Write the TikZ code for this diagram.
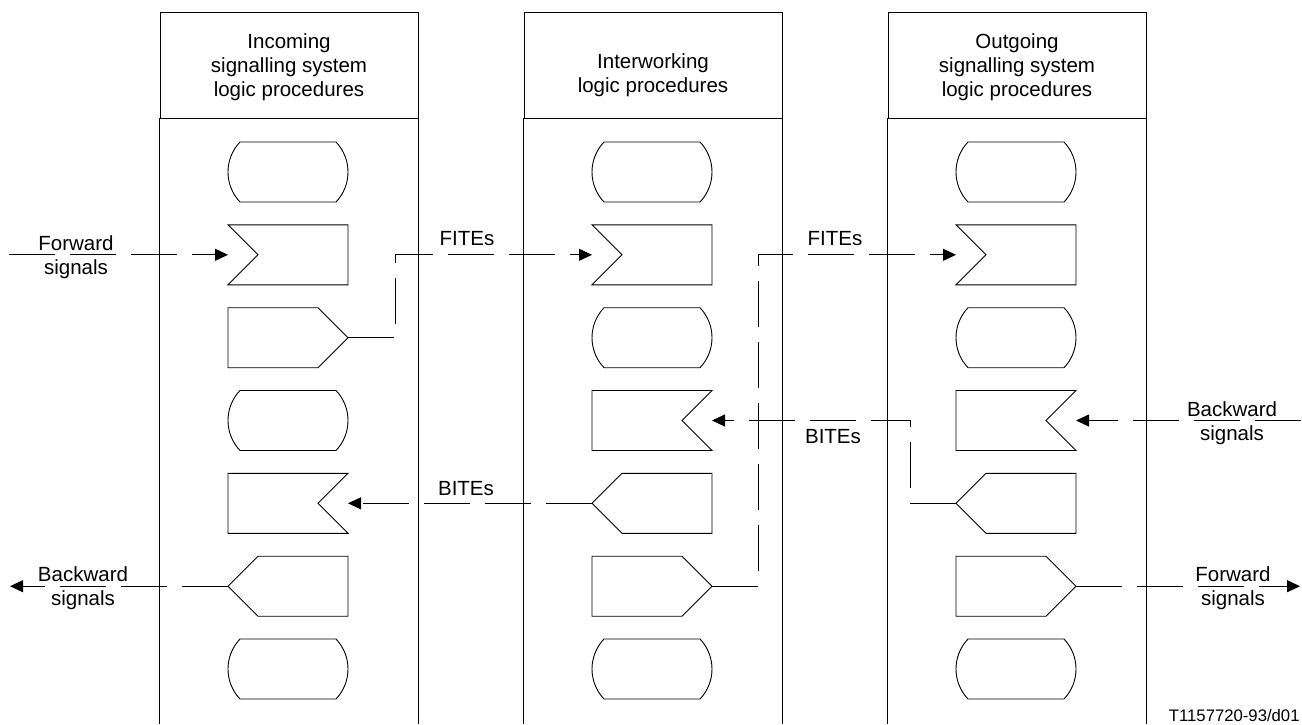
\documentclass[tikz,border=0pt]{standalone}
\usepackage{fontspec}
\setmainfont{Liberation Sans}
\usetikzlibrary{arrows.meta,calc}
\newcommand\shterm[1]{\draw ($(#1)+(-48,-30)$) -- ($(#1)+(48,-30)$) .. controls ($(#1)+(64,-13.2)$) and ($(#1)+(64,13.2)$) .. ($(#1)+(48,30)$) -- ($(#1)+(-48,30)$) .. controls ($(#1)+(-64,13.2)$) and ($(#1)+(-64,-13.2)$) .. cycle;}
\newcommand\shrecvL[1]{\draw ($(#1)+(-60,-30)$) -- ($(#1)+(60,-30)$) -- ($(#1)+(60,30)$) -- ($(#1)+(-60,30)$) -- ($(#1)+(-30,0)$) -- cycle;}
\newcommand\shrecvR[1]{\draw ($(#1)+(-60,-30)$) -- ($(#1)+(60,-30)$) -- ($(#1)+(30,0)$) -- ($(#1)+(60,30)$) -- ($(#1)+(-60,30)$) -- cycle;}
\newcommand\shsendR[1]{\draw ($(#1)+(-60,-30)$) -- ($(#1)+(30,-30)$) -- ($(#1)+(60,0)$) -- ($(#1)+(30,30)$) -- ($(#1)+(-60,30)$) -- cycle;}
\newcommand\shsendL[1]{\draw ($(#1)+(-30,-30)$) -- ($(#1)+(60,-30)$) -- ($(#1)+(60,30)$) -- ($(#1)+(-30,30)$) -- ($(#1)+(-60,0)$) -- cycle;}
\begin{document}
\begin{tikzpicture}[x=1pt,y=-1pt, line width=0.9pt,
  lbl/.style={font=\fontsize{20.5}{24}\selectfont, inner sep=0pt, align=center},
  hdrbox/.style={draw, minimum width=258pt, minimum height=106pt, inner sep=0pt},
  slot/.style={minimum width=120pt, minimum height=60pt, inner sep=0pt, outer sep=0pt},
  sig/.style={dash pattern=on 46pt off 15pt},
  tip/.style={-{Triangle[length=13pt,width=12pt]}}]
\useasboundingbox (0,0) rectangle (1302,724);
\coordinate (bot) at (0,724);
% columns
\node[hdrbox] (HL) at (289,65) {};
\node[hdrbox] (HM) at (653,65) {};
\node[hdrbox] (HR) at (1017,65) {};
\foreach \h in {HL,HM,HR}{
  \draw (\h.south west) -- (\h.south west |- bot);
  \draw (\h.south east) -- (\h.south east |- bot);
}
\node[lbl, anchor=north] (TL) at (289,33) {Incoming\\signalling system\\logic procedures};
\node[lbl, anchor=north] (TM) at (653,53) {Interworking\\logic procedures};
\node[lbl, anchor=north] (TR) at (1017,33) {Outgoing\\signalling system\\logic procedures};
% slots
\foreach \c/\x in {L/288,M/652,R/1016}{
  \foreach \r/\y in {1/172,2/254.8,3/337.7,4/420.5,5/503.3,6/586.2,7/669}{
    \node[slot] (\c\r) at (\x,\y) {};
  }
}
\shterm{L1} \shrecvL{L2} \shsendR{L3} \shterm{L4} \shrecvR{L5} \shsendL{L6} \shterm{L7}
\shterm{M1} \shrecvL{M2} \shterm{M3} \shrecvR{M4} \shsendL{M5} \shsendR{M6} \shterm{M7}
\shterm{R1} \shrecvL{R2} \shterm{R3} \shrecvR{R4} \shsendL{R5} \shsendR{R6} \shterm{R7}
% connectors
\coordinate (fin) at (9,254.8);
\coordinate (f1) at (395,254.8);
\coordinate (f2) at (758,254.8);
\coordinate (bin) at (1301,420.5);
\coordinate (b1) at (910,420.5);
\coordinate (bout) at (10,586.2);
\coordinate (fout) at (1300,586.2);
\draw[sig,tip] (fin) -- (L2.west);
\draw[sig,tip] (L3.east) -| (f1) -- (M2.west);
\draw[sig,tip] (M6.east) -| (f2) -- (R2.west);
\draw[sig,tip] (bin) -- (R4.east);
\draw[sig,tip] (R5.west) -| (b1) -- (M4.east);
\draw[sig,tip] (M5.west) -- (L5.east);
\draw[sig,tip] (L6.west) -- (bout);
\draw[sig,tip] (R6.east) -- (fout);
% labels
\node[lbl, anchor=north] (lfwd) at (76,235) {Forward\\signals};
\node[lbl, anchor=base] (fites1) at (467,245) {FITEs};
\node[lbl, anchor=base] (fites2) at (835,245) {FITEs};
\node[lbl, anchor=base] (bites1) at (466,495) {BITEs};
\node[lbl, anchor=base] (bites2) at (833,443) {BITEs};
\node[lbl, anchor=north] (rbwd) at (1232,400.8) {Backward\\signals};
\node[lbl, anchor=north] (lbwd) at (83,566.5) {Backward\\signals};
\node[lbl, anchor=north] (rfwd) at (1233,566.5) {Forward\\signals};
\node[font=\fontsize{16.7}{20}\selectfont, inner sep=0pt, anchor=base east] (code) at (1300,721.5) {T1157720-93/d01};
\end{tikzpicture}
\end{document}
